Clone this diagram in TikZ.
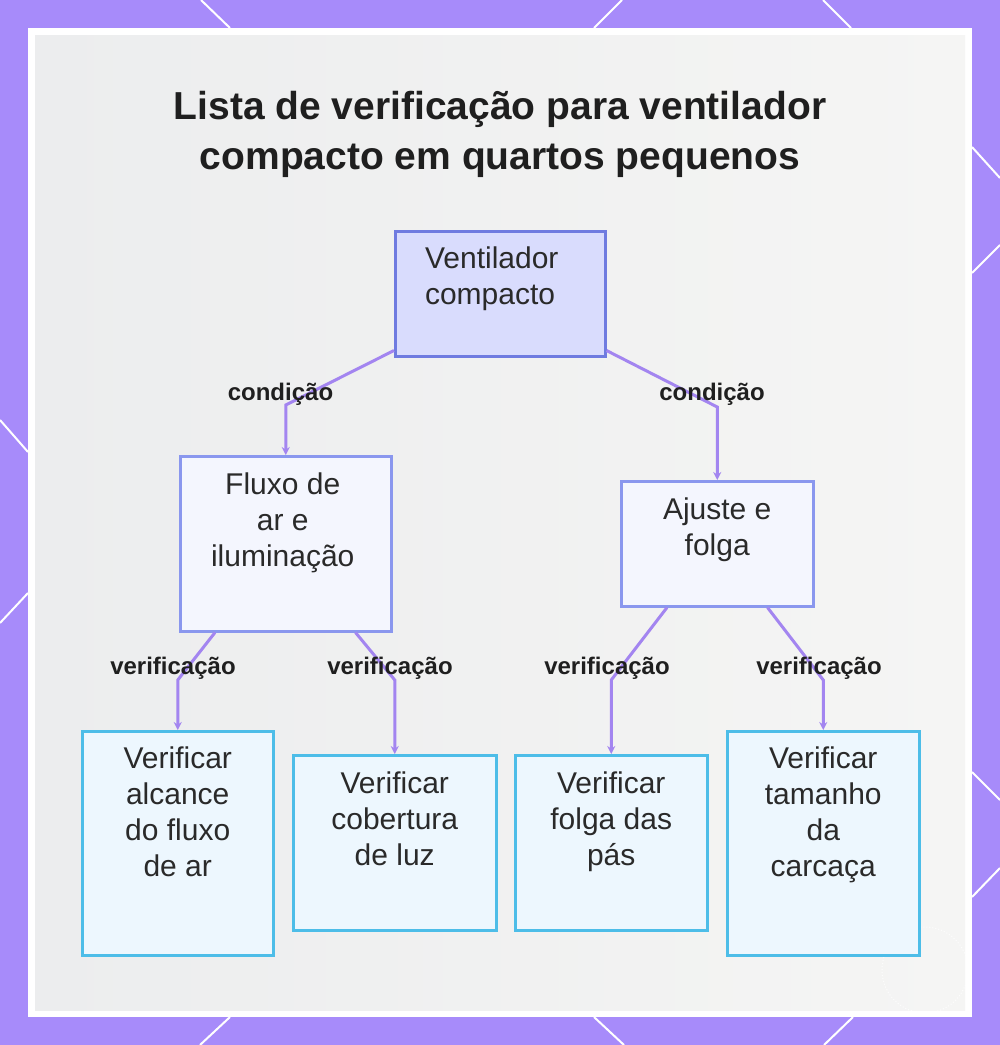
\documentclass[tikz,border=0pt]{standalone}
\usepackage{fontspec}
\setmainfont{Liberation Sans}
\usetikzlibrary{arrows.meta,calc}
\definecolor{framecol}{HTML}{A78BFA}
\definecolor{rootfill}{HTML}{D9DCFD}
\definecolor{rootdraw}{HTML}{6F7BE0}
\definecolor{midfill}{HTML}{F4F6FE}
\definecolor{middraw}{HTML}{8A97EE}
\definecolor{leaffill}{HTML}{EDF7FE}
\definecolor{leafdraw}{HTML}{4DBDE8}
\definecolor{conncol}{HTML}{A385F0}
\definecolor{txtcol}{HTML}{2A2A2A}
\definecolor{titlecol}{HTML}{1F1F1F}
\definecolor{bgleft}{HTML}{ECEDEE}
\definecolor{bgmid}{HTML}{F4F4F4}
\definecolor{bgright}{HTML}{F5F5F4}
\newcommand\firstln{\rule{0pt}{24pt}}
\begin{document}
\begin{tikzpicture}[x=1pt,y=-1pt,
  rootbox/.style={draw=rootdraw,fill=rootfill,line width=2.5pt,inner sep=0pt,anchor=north west},
  midbox/.style={draw=middraw,fill=midfill,line width=2.5pt,inner sep=0pt,anchor=north west},
  leafbox/.style={draw=leafdraw,fill=leaffill,line width=2.5pt,inner sep=0pt,anchor=north west},
  boxtext/.style={anchor=north,inner sep=0pt,align=center,text=txtcol,font=\fontsize{30}{36}\selectfont},
  lbl/.style={anchor=base,inner sep=0pt,text=titlecol,font=\bfseries\fontsize{24}{28}\selectfont},
  conn/.style={draw=conncol,line width=3pt,-{Stealth[length=8pt,width=8pt]}},
  deco/.style={white,line width=2pt}]
\useasboundingbox (0,0) rectangle (1000,1045);
\fill[framecol] (0,0) rectangle (1000,1045);
% decorative lines in frame
\draw[deco] (201,0) -- (230,28);
\draw[deco] (622,0) -- (594,28);
\draw[deco] (823,0) -- (851,28);
\draw[deco] (0,420) -- (28,452);
\draw[deco] (28,593) -- (0,623);
\draw[deco] (972,147) -- (1000,178);
\draw[deco] (1000,245) -- (972,273);
\draw[deco] (972,772) -- (1000,800);
\draw[deco] (1000,868) -- (972,897);
\draw[deco] (230,1017) -- (200,1045);
\draw[deco] (594,1017) -- (624,1045);
\draw[deco] (853,1017) -- (824,1045);
% panel
\fill[white] (28,28) rectangle (972,1017);
\shade[left color=bgleft,middle color=bgmid,right color=bgright] (35,35) rectangle (965,1010);
\draw[white,line width=1pt,opacity=0.8,dotted] (925,970) circle (43);
% title
\node[anchor=north,inner sep=0pt,align=center,text=titlecol,font=\bfseries\fontsize{39}{50}\selectfont] (title) at (500,89)
  {\rule{0pt}{30pt}Lista de verificação para ventilador\\compacto em quartos pequenos};
% boxes
\node[rootbox,minimum width=210pt,minimum height=125pt] (root) at (394,230) {};
\node[midbox,minimum width=211pt,minimum height=175pt] (fluxo) at (179,455) {};
\node[midbox,minimum width=192pt,minimum height=125pt] (ajuste) at (620,480) {};
\node[leafbox,minimum width=191pt,minimum height=224pt] (leafa) at (81,730) {};
\node[leafbox,minimum width=203pt,minimum height=175pt] (leafb) at (292,754) {};
\node[leafbox,minimum width=192pt,minimum height=175pt] (leafc) at (514,754) {};
\node[leafbox,minimum width=192pt,minimum height=224pt] (leafd) at (726,730) {};
% box texts
\node[boxtext,align=left] (roottxt) at ([xshift=-8.5pt,yshift=-14pt]root.north) {\firstln Ventilador\\compacto};
\node[boxtext] (fluxotxt) at ([xshift=-3pt,yshift=-15pt]fluxo.north) {\firstln Fluxo de\\ar e\\iluminação};
\node[boxtext] (ajustetxt) at ([yshift=-15pt]ajuste.north) {\firstln Ajuste e\\folga};
\node[boxtext] (leafatxt) at ([yshift=-14pt]leafa.north) {\firstln Verificar\\alcance\\do fluxo\\de ar};
\node[boxtext] (leafbtxt) at ([yshift=-15pt]leafb.north) {\firstln Verificar\\cobertura\\de luz};
\node[boxtext] (leafctxt) at ([yshift=-15pt]leafc.north) {\firstln Verificar\\folga das\\pás};
\node[boxtext] (leafdtxt) at ([yshift=-14pt]leafd.north) {\firstln Verificar\\tamanho\\da\\carcaça};
% connectors
\draw[conn] ([yshift=7pt]root.south west) -- ([yshift=50pt]fluxo.north) -- (fluxo.north);
\draw[conn] ([yshift=7pt]root.south east) -- ([yshift=73pt]ajuste.north) -- (ajuste.north);
\draw[conn] ([xshift=36pt]fluxo.south west) -- ([yshift=50pt]leafa.north) -- (leafa.north);
\draw[conn] ([xshift=-37pt]fluxo.south east) -- ([yshift=74pt]leafb.north) -- (leafb.north);
\draw[conn] ([xshift=47pt]ajuste.south west) -- ([yshift=74pt]leafc.north) -- (leafc.north);
\draw[conn] ([xshift=-47pt]ajuste.south east) -- ([yshift=50pt]leafd.north) -- (leafd.north);
% labels
\node[lbl] (la) at (280.5,400) {condição};
\node[lbl] (lb) at (712,400) {condição};
\node[lbl] (lc) at (173,674) {verificação};
\node[lbl] (ld) at (390,674) {verificação};
\node[lbl] (le) at (607,674) {verificação};
\node[lbl] (lf) at (819,674) {verificação};
\end{tikzpicture}
\end{document}
